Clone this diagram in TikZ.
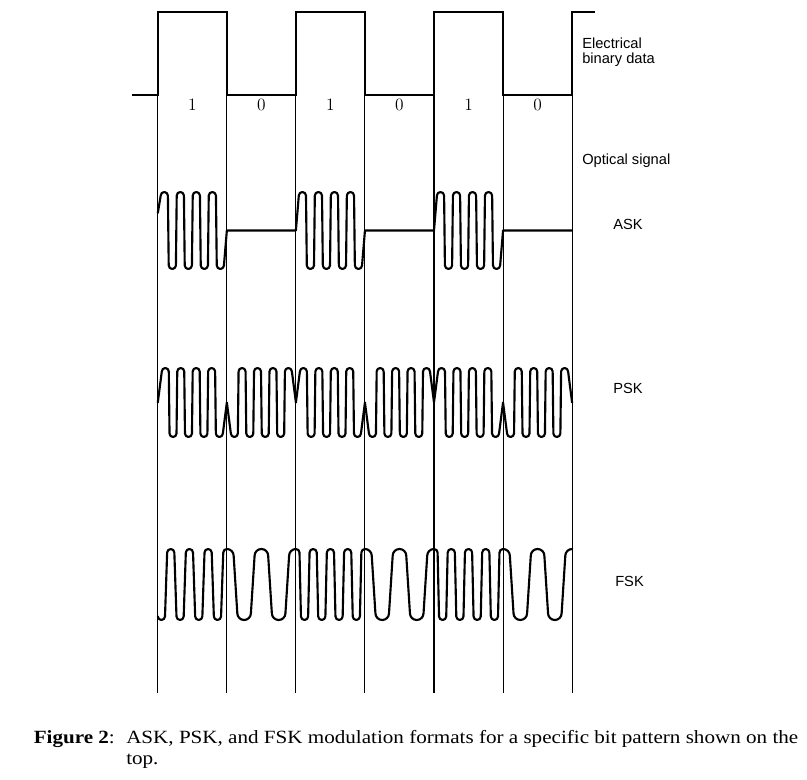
\documentclass[tikz,border=0pt]{standalone}
\usepackage{fontspec}
\usepackage{graphicx}
\newfontfamily\labfont{Liberation Sans}
\newfontfamily\capfont{Liberation Serif}
% ---- waveform path builder (pixel coordinates, y downwards) ----
\def\wp{}
\newcommand\wpstart[2]{\xdef\wp{(#1,#2)}}
\newcommand\wpline[2]{\xdef\wp{\wp -- (#1,#2)}}
\newcommand\wpext[5]{% centre x, level y, sign (+1 top, -1 bottom), left r, right r
  \pgfmathsetmacro\wAx{#1-(#4)}%
  \pgfmathsetmacro\wAy{#2+(#3)*(#4)}%
  \pgfmathsetmacro\wBy{#2+(#3)*(#4)*0.448}%
  \pgfmathsetmacro\wCx{#1-0.552*(#4)}%
  \pgfmathsetmacro\wDx{#1+0.552*(#5)}%
  \pgfmathsetmacro\wEx{#1+(#5)}%
  \pgfmathsetmacro\wEy{#2+(#3)*(#5)*0.448}%
  \pgfmathsetmacro\wFy{#2+(#3)*(#5)}%
  \pgfmathsetmacro\wMx{#1}\pgfmathsetmacro\wMy{#2}%
  \xdef\wp{\wp -- (\wAx,\wAy) .. controls (\wAx,\wBy) and (\wCx,\wMy) .. (\wMx,\wMy) .. controls (\wDx,\wMy) and (\wEx,\wEy) .. (\wEx,\wFy)}}
\newcommand\wpbit[7]{% x0, x1, count, first sign, offset first, offset last, radius
  \pgfmathsetmacro\wSp{(#2-#1-(#5)-(#6))/(#3-1)}%
  \pgfmathtruncatemacro\wN{#3-1}%
  \foreach \k in {0,...,\wN}{%
    \pgfmathsetmacro\wXc{#1+(#5)+\k*\wSp}%
    \pgfmathtruncatemacro\wS{(#4)*(1-2*mod(\k,2))}%
    \ifnum\wS>0 \edef\wY{\wT}\else\edef\wY{\wB}\fi
    \wpext{\wXc}{\wY}{\wS}{#7}{#7}}}
\newcommand\wpdraw{\edef\wtmp{\noexpand\draw[sig] \wp;}\wtmp}
\begin{document}
\begin{tikzpicture}[x=0.75pt,y=-0.75pt,
  sig/.style={line width=1.6pt,line join=round,line cap=round},
  sqw/.style={line width=1.6pt,line join=miter},
  gridline/.style={line width=0.8pt},
  digit/.style={inner sep=0pt,font=\rmfamily\fontsize{13}{15}\selectfont},
  lab/.style={anchor=base west,inner sep=0pt,font=\labfont\fontsize{11}{13}\selectfont},
  capt/.style={anchor=base west,inner sep=0pt,font=\capfont\fontsize{14}{16}\selectfont}]
\useasboundingbox (0,0) rectangle (807,780);
% bit boundaries
\foreach \x [count=\i from 0] in {157.8,226.85,295.9,364.95,434.0,503.05,572.1}{
  \coordinate (t\i) at (\x,95);
  \coordinate (h\i) at (\x,12);
  \coordinate (d\i) at (\x,693);
  \draw[gridline] (t\i) -- (d\i);
}
% electrical binary data
\coordinate (sqs) at (132,95);
\coordinate (sqe) at (595,12);
\draw[sqw] (sqs) -- (t0) -- (h0) -- (h1) -- (t1) -- (t2) -- (h2) -- (h3) -- (t3)
  -- (t4) -- (h4) -- (h5) -- (t5) -- (t6) -- (h6) -- (sqe);
% bit values
\foreach \x/\v [count=\i from 0] in {157.8/1,226.85/0,295.9/1,364.95/0,434.0/1,503.05/0}{
  \node[digit] (bit\i) at ({\x+34.5},104.5) {\v};
}
% ---------- ASK ----------
\def\wT{192}\def\wB{269}\def\wc{230.5}
\wpstart{157.8}{213}
\wpbit{157.8}{226.85}{8}{1}{6.5}{6.5}{3.6}
\wpline{226.85}{\wc}\wpline{295.9}{\wc}
\wpbit{295.9}{364.95}{8}{1}{6.5}{6.5}{3.6}
\wpline{364.95}{\wc}\wpline{434.0}{\wc}
\wpbit{434.0}{503.05}{8}{1}{6.5}{6.5}{3.6}
\wpline{503.05}{\wc}\wpline{572.1}{\wc}
\wpdraw
% ---------- PSK ----------
\def\wT{368}\def\wB{437}\def\wc{402.5}
\wpstart{157.8}{\wc}
\wpbit{157.8}{226.85}{8}{1}{7.5}{7.5}{3.5}\wpline{226.85}{\wc}
\wpbit{226.85}{295.9}{8}{-1}{7.5}{7.5}{3.5}\wpline{295.9}{\wc}
\wpbit{295.9}{364.95}{8}{1}{7.5}{7.5}{3.5}\wpline{364.95}{\wc}
\wpbit{364.95}{434.0}{8}{-1}{7.5}{7.5}{3.5}\wpline{434.0}{\wc}
\wpbit{434.0}{503.05}{8}{1}{7.5}{7.5}{3.5}\wpline{503.05}{\wc}
\wpbit{503.05}{572.1}{8}{-1}{7.5}{7.5}{3.5}\wpline{572.1}{\wc}
\wpdraw
% ---------- FSK ----------
\def\wT{549}\def\wB{620}
\wpstart{157.8}{616.4}
\wpbit{157.8}{226.85}{7}{-1}{3.6}{9.4}{3.6}
\wpext{226.85}{\wT}{1}{3.6}{6.8}
\wpbit{226.85}{295.9}{3}{-1}{17.26}{17.26}{6.8}
\wpext{295.9}{\wT}{1}{6.8}{3.6}
\wpbit{295.9}{364.95}{7}{-1}{8.63}{8.63}{3.6}
\wpext{364.95}{\wT}{1}{3.6}{6.8}
\wpbit{364.95}{434.0}{3}{-1}{17.26}{17.26}{6.8}
\wpext{434.0}{\wT}{1}{6.8}{3.6}
\wpbit{434.0}{503.05}{7}{-1}{8.63}{8.63}{3.6}
\wpext{503.05}{\wT}{1}{3.6}{6.8}
\wpbit{503.05}{572.1}{3}{-1}{17.26}{17.26}{6.8}
\wpext{572.1}{\wT}{1}{6.8}{0}
\wpdraw
% labels
\node[lab] (el) at (582,48.3) {Electrical};
\node[lab] (bd) at (582,63.3) {binary data};
\node[lab] (os) at (582,165) {Optical signal};
\node[lab] (ask) at (613,229.3) {ASK};
\node[lab] (psk) at (613,394) {PSK};
\node[lab] (fsk) at (615,586) {FSK};
% caption
\node[capt] (fig) at (33.5,743) {\scalebox{1.13}[1]{\bfseries Figure 2}\scalebox{1.13}[1]{:}};
\node[capt] (cap1) at (126,743) {\scalebox{1.13}[1]{ASK, PSK, and FSK modulation formats for a specific bit pattern shown on the}};
\node[capt] (cap2) at (126,764) {\scalebox{1.13}[1]{top.}};
\end{tikzpicture}
\end{document}
